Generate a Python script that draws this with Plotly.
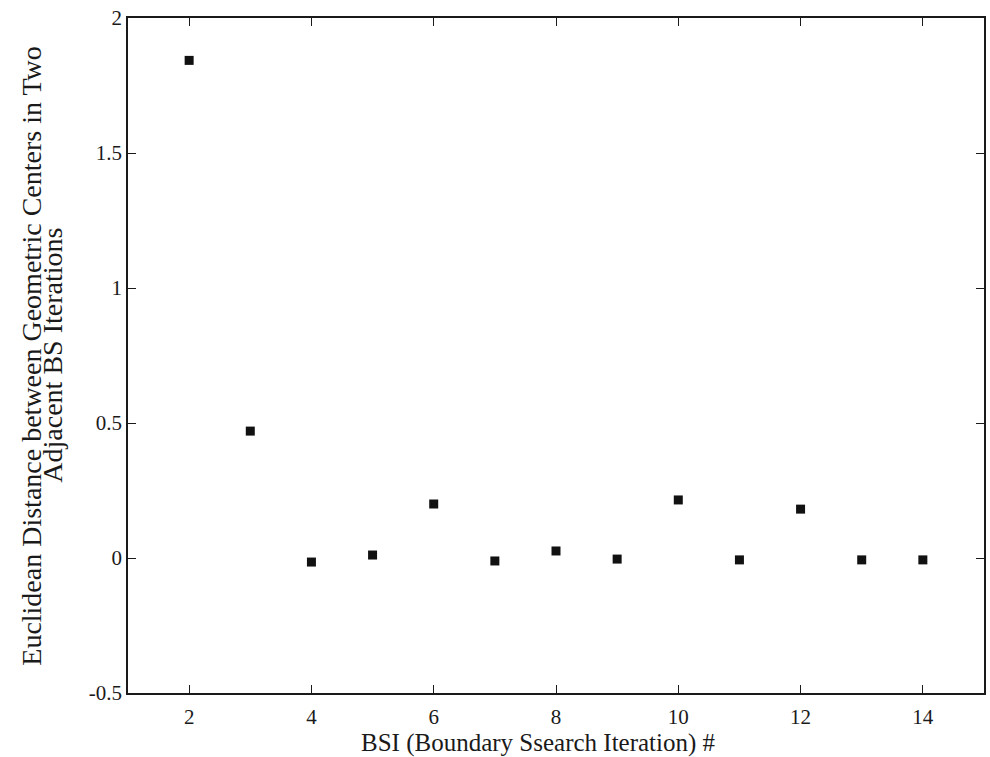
import plotly.graph_objects as go

bsi = [2, 3, 4, 5, 6, 7, 8, 9, 10, 11, 12, 13, 14]
distance = [1.843, 0.470, -0.015, 0.011, 0.200, -0.011, 0.026, -0.004,
            0.215, -0.007, 0.181, -0.007, -0.007]

x_tickvals = [2, 4, 6, 8, 10, 12, 14]
x_ticktext = ["2", "4", "6", "8", "10", "12", "14"]
y_tickvals = [-0.5, 0, 0.5, 1, 1.5, 2]
y_ticktext = ["-0.5", "0", "0.5", "1", "1.5", "2"]

x_title = "BSI (Boundary Ssearch Iteration) #"
y_title_lines = ["Euclidean Distance between Geometric Centers in Two",
                 "Adjacent BS Iterations"]

FONT = "Liberation Serif"
INK = "#1a1a1a"
L, R, T, B = 128, 4, 18, 64
W, H = 990, 757
PW, PH = W - L - R, H - T - B

fig = go.Figure()
fig.add_trace(go.Scatter(
    x=bsi, y=distance, mode="markers",
    marker=dict(symbol="square", size=9, color="#111111", line=dict(width=0)),
    showlegend=False,
))

axis_common = dict(
    showline=True, linecolor=INK, linewidth=1.5, mirror="ticks",
    ticks="inside", ticklen=8, tickwidth=1.2, tickcolor=INK,
    showgrid=False, zeroline=False,
    tickfont=dict(family=FONT, size=21, color=INK),
)

fig.update_layout(
    width=W, height=H,
    margin=dict(l=L, r=R, t=T, b=B),
    paper_bgcolor="white", plot_bgcolor="white",
    xaxis=dict(range=[1, 15], tickvals=x_tickvals, ticktext=x_ticktext,
               ticklabelstandoff=4, **axis_common),
    yaxis=dict(range=[-0.5, 2], tickvals=y_tickvals, ticktext=y_ticktext,
               **axis_common),
)

# x-axis title
fig.add_annotation(
    text=x_title, xref="paper", yref="paper",
    x=(539 - L) / PW, y=(H - B - 743) / PH,
    xanchor="center", yanchor="middle", showarrow=False,
    font=dict(family=FONT, size=25, color=INK),
)

# two-line y-axis title with tight (MATLAB-like) line spacing
for line, xpix in zip(y_title_lines, [31, 52]):
    fig.add_annotation(
        text=line, textangle=-90,
        xref="paper", yref="paper",
        x=(xpix - L) / PW, y=0.5,
        xanchor="center", yanchor="middle",
        showarrow=False,
        font=dict(family=FONT, size=28, color=INK),
    )

fig.write_html("out.html")
